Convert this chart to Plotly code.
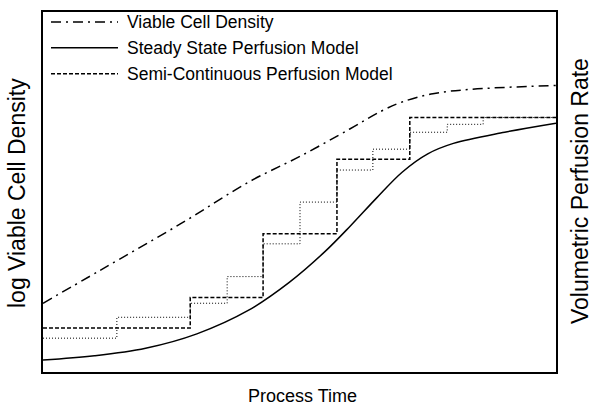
import plotly.graph_objects as go

# ---- data (arbitrary units: x = process time 0..100, y = 0..100) ----
vcd_x = [0, 11.1, 27.1, 40.4, 50.1, 59.8, 66.0, 70.0, 76.0, 83.2, 100]
vcd_y = [19.1, 28.2, 41.4, 53.0, 59.9, 67.5, 72.5, 75.0, 77.3, 78.5, 79.6]

ss_x = [0, 10, 20, 30, 40, 48, 55, 60, 65, 70, 75, 80, 90, 100]
ss_y = [3.3, 4.5, 6.6, 10.6, 17.1, 24.9, 33.5, 40.7, 48.3, 55.5, 60.6, 63.5, 66.6, 69.1]

semi_x = [0, 28.7, 42.9, 57.3, 71.5, 100]
semi_y = [12.2, 20.7, 38.4, 59.1, 70.7, 70.7]

dot_x = [0, 14.4, 28.7, 35.9, 42.9, 50.1, 57.3, 64.3, 71.5, 78.8, 85.8, 100]
dot_y = [9.4, 15.2, 19.1, 26.5, 35.6, 47.2, 56.1, 61.9, 66.6, 68.8, 70.7, 70.7]

legend_labels = ["Viable Cell Density", "Steady State Perfusion Model",
                 "Semi-Continuous Perfusion Model"]
x_title = "Process Time"
y_title = "log Viable Cell Density"
y2_title = "Volumetric Perfusion Rate"

FONT = "Liberation Sans, Arial, sans-serif"
dashdot = "10px,5px,2px,5px"
dashed = "4px,2px"
dotted = "1px,2px"

fig = go.Figure()
fig.add_trace(go.Scatter(x=vcd_x, y=vcd_y, mode="lines", line=dict(color="black", width=1.5, dash=dashdot, shape="spline", smoothing=1.0), showlegend=False))
fig.add_trace(go.Scatter(x=ss_x, y=ss_y, mode="lines", line=dict(color="black", width=1.5, shape="spline", smoothing=1.0), showlegend=False))
fig.add_trace(go.Scatter(x=dot_x, y=dot_y, mode="lines", line=dict(color="black", width=1, dash=dotted, shape="hv"), showlegend=False))
fig.add_trace(go.Scatter(x=semi_x, y=semi_y, mode="lines", line=dict(color="black", width=1.5, dash=dashed, shape="hv"), showlegend=False))

# manual legend
PL, PR, PT, PB = 43, 556, 10, 372
def px(x):
    return (x - PL) / (PR - PL)
def py(y):
    return (PB - y) / (PB - PT)

rows = [20, 46, 72]
styles = [dict(dash=dashdot, width=1.5), dict(dash="solid", width=1.5), dict(dash=dashed, width=1.5)]
for lab, ry, st in zip(legend_labels, rows, styles):
    fig.add_shape(type="line", xref="paper", yref="paper", x0=px(51), x1=px(118), y0=py(ry), y1=py(ry),
                  line=dict(color="black", width=st["width"], dash=st["dash"]))
    fig.add_annotation(xref="paper", yref="paper", x=px(125), y=py(ry), text=lab, showarrow=False,
                       xanchor="left", yanchor="middle", font=dict(family=FONT, size=17.5, color="black"))

fig.add_annotation(xref="paper", yref="paper", x=px(17), y=py(192), text=y_title, textangle=-90,
                   showarrow=False, xanchor="center", yanchor="middle", font=dict(family=FONT, size=23, color="black"))
fig.add_annotation(xref="paper", yref="paper", x=px(580), y=py(190), text=y2_title, textangle=-90,
                   showarrow=False, xanchor="center", yanchor="middle", font=dict(family=FONT, size=23, color="black"))
fig.add_annotation(xref="paper", yref="paper", x=px(302), y=py(396), text=x_title,
                   showarrow=False, xanchor="center", yanchor="middle", font=dict(family=FONT, size=18, color="black"))

axis_common = dict(showgrid=False, zeroline=False, showticklabels=False, ticks="",
                   showline=True, mirror=True, linecolor="black", linewidth=2, range=[0, 100], fixedrange=True)
fig.update_layout(
    width=596, height=410,
    margin=dict(l=PL, r=596 - PR, t=PT, b=410 - PB),
    paper_bgcolor="white", plot_bgcolor="white",
    xaxis=axis_common, yaxis=axis_common,
    font=dict(family=FONT),
)
fig.write_html("out.html", config={"displayModeBar": False},
               post_script="document.body.style.margin='0';document.body.style.padding='0';")
